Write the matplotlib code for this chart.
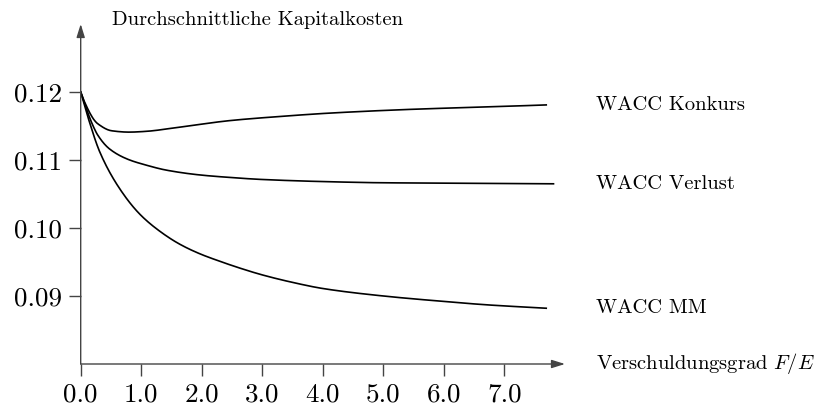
import numpy as np
import matplotlib.pyplot as plt

plt.rcParams['font.family'] = ['cmr10', 'DejaVu Serif']
plt.rcParams['mathtext.fontset'] = 'cm'
plt.rcParams['axes.formatter.use_mathtext'] = True

# Verschuldungsgrad F/E and WACC curves
fe_konkurs = [0.0, 0.065, 0.23, 0.286, 0.51, 0.8, 1.06, 1.61, 2.47, 3.29, 4.12, 5.61, 6.71, 7.69]
wacc_konkurs = [0.1200, 0.1185, 0.1158, 0.1153, 0.1143, 0.1141, 0.1142, 0.1148, 0.1158, 0.1164,
                0.1169, 0.1175, 0.1178, 0.1181]

fe_verlust = [0.0, 0.176, 0.286, 0.48, 0.78, 1.06, 1.42, 1.97, 2.52, 2.96, 4.12, 5.0, 6.0, 7.0, 7.81]
wacc_verlust = [0.1200, 0.1156, 0.1136, 0.1116, 0.1101, 0.1093, 0.1085, 0.1078, 0.1074, 0.10715,
                0.1068, 0.10665, 0.1066, 0.10655, 0.1065]

fe_mm = [0.0, 0.137, 0.319, 0.65, 0.98, 1.31, 1.64, 1.97, 2.30, 2.63, 3.0, 3.5, 4.0, 5.0, 6.0,
         6.71, 7.69]
wacc_mm = [0.1200, 0.1158, 0.1111, 0.1057, 0.1020, 0.0995, 0.0976, 0.0962, 0.0951, 0.0941, 0.0931,
           0.0920, 0.0911, 0.0900, 0.0892, 0.0887, 0.0882]

labels = ['WACC Konkurs', 'WACC Verlust', 'WACC MM']
x_ticks = [0, 1, 2, 3, 4, 5, 6, 7]
x_ticklabels = ['0.0', '1.0', '2.0', '3.0', '4.0', '5.0', '6.0', '7.0']
y_ticks = [0.09, 0.10, 0.11, 0.12]
y_ticklabels = ['0.09', '0.10', '0.11', '0.12']


def pchip(x, y, xn):
    # monotone cubic through the read points, only for a smooth drawn line
    x = np.asarray(x, float)
    y = np.asarray(y, float)
    h = np.diff(x)
    d = np.diff(y) / h
    m = np.zeros_like(y)
    for i in range(1, len(x) - 1):
        if d[i - 1] * d[i] > 0:
            w1 = 2 * h[i] + h[i - 1]
            w2 = h[i] + 2 * h[i - 1]
            m[i] = (w1 + w2) / (w1 / d[i - 1] + w2 / d[i])
    m[0] = d[0]
    m[-1] = d[-1]
    idx = np.clip(np.searchsorted(x, xn) - 1, 0, len(h) - 1)
    t = (xn - x[idx]) / h[idx]
    h00 = 2 * t**3 - 3 * t**2 + 1
    h10 = t**3 - 2 * t**2 + t
    h01 = -2 * t**3 + 3 * t**2
    h11 = t**3 - t**2
    return h00 * y[idx] + h10 * h[idx] * m[idx] + h01 * y[idx + 1] + h11 * h[idx] * m[idx + 1]


fig = plt.figure(figsize=(8.17, 4.08), dpi=100)
ax = fig.add_axes([80.7 / 817, 44 / 408, (565 - 80.7) / 817, 340 / 408])

axis_col = '#444444'
for xs, ys, lab in zip([fe_konkurs, fe_verlust, fe_mm], [wacc_konkurs, wacc_verlust, wacc_mm], labels):
    xx = np.linspace(xs[0], xs[-1], 400)
    ax.plot(xx, pchip(xs, ys, xx), color='black', lw=1.2)
    ax.text(8.52, ys[-1], lab, fontsize=14.8, va='center', ha='left')

ax.set_xlim(0, 8)
ax.set_ylim(0.08, 0.13)
for s in ax.spines.values():
    s.set_visible(False)

# axes with arrow heads
arrow = dict(arrowstyle='-|>,head_length=0.8,head_width=0.25', color=axis_col, lw=1.0,
             shrinkA=0, shrinkB=0)
ax.annotate('', xy=(8.0, 0.08), xytext=(0, 0.08), annotation_clip=False, arrowprops=arrow)
ax.annotate('', xy=(0, 0.13), xytext=(0, 0.08), annotation_clip=False, arrowprops=arrow)

ax.set_xticks(x_ticks)
ax.set_xticklabels(x_ticklabels)
ax.set_yticks(y_ticks)
ax.set_yticklabels(y_ticklabels)
ax.tick_params(direction='out', length=8.5, width=1.0, color=axis_col, labelsize=19.5, pad=5)

ax.text(8.52, 0.08, 'Verschuldungsgrad $F/E$', fontsize=14.8, va='center', ha='left')
fig.text(111.7 / 817, 1 - 20 / 408, 'Durchschnittliche Kapitalkosten', fontsize=14.8, va='center', ha='left')

fig.savefig('out.png', dpi=100)
